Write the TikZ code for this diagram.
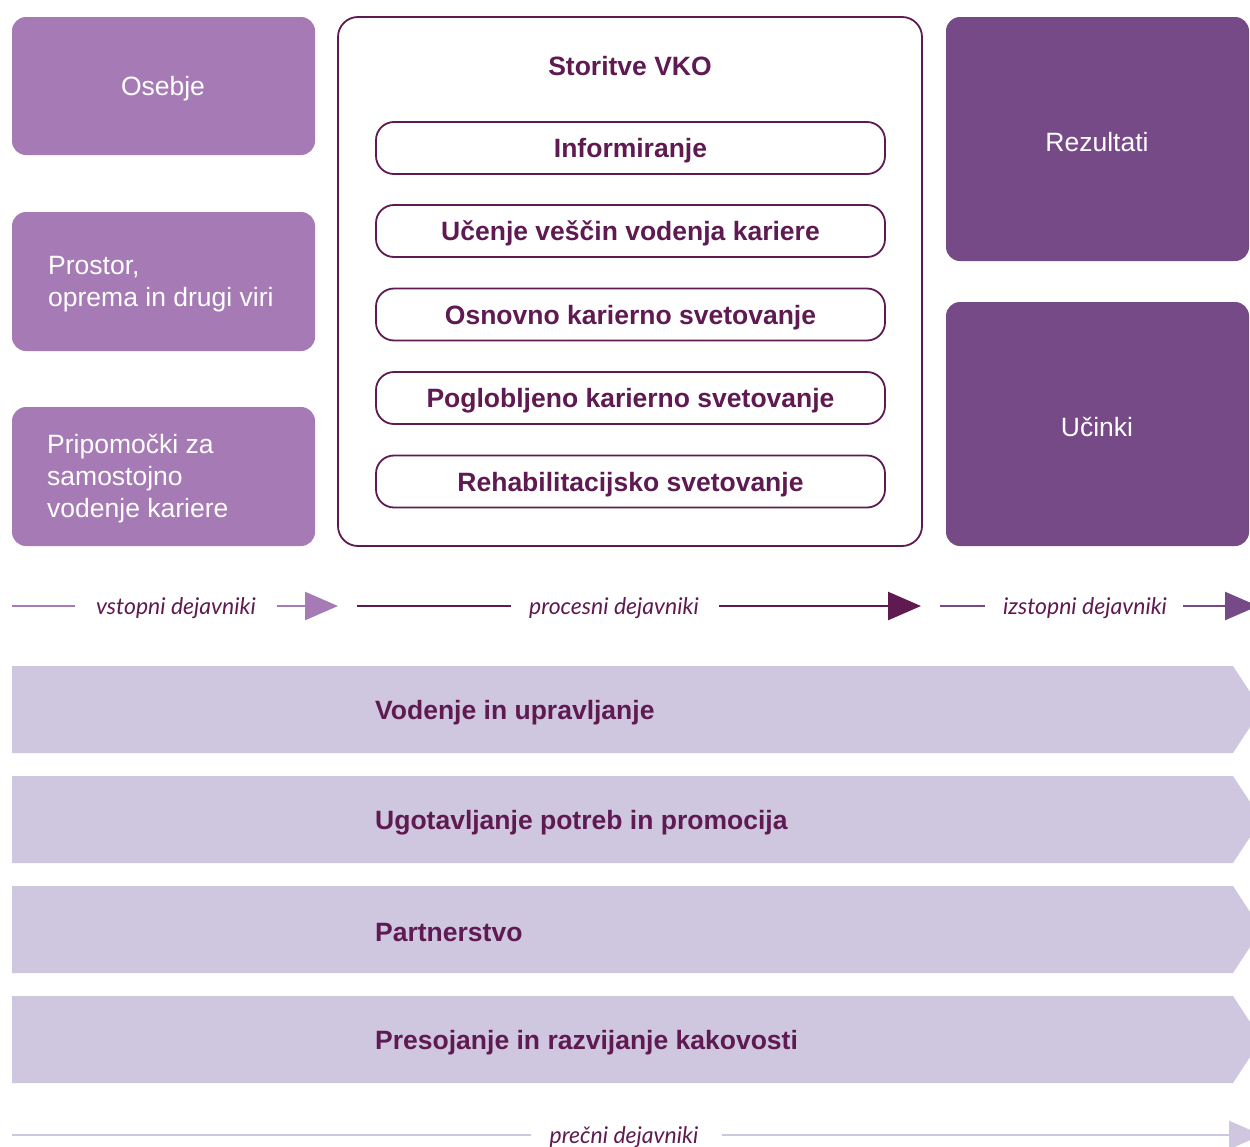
\documentclass[tikz,border=0pt]{standalone}
\usepackage{fontspec}
\setmainfont{Liberation Sans}
\newfontfamily\labfont{Lato}
\usetikzlibrary{arrows.meta}
\definecolor{lightp}{HTML}{A67BB5}
\definecolor{darkp}{HTML}{764A87}
\definecolor{deepp}{HTML}{5E1A51}
\definecolor{bandc}{HTML}{CFC6E0}
\tikzset{
  leftbox/.style={fill=lightp, draw=none, rounded corners=14pt, text=white},
  rightbox/.style={fill=darkp, draw=none, rounded corners=14pt, text=white},
  pill/.style={draw=deepp, line width=1.8pt, fill=white, rounded corners=18pt, minimum width=509pt, minimum height=52pt, text height=21pt, text depth=2pt, text=deepp, font=\fontsize{26.5}{30}\selectfont\bfseries},
  bandtxt/.style={anchor=west, text=deepp, font=\fontsize{26.5}{30}\selectfont\bfseries, inner sep=0pt},
  lab/.style={font=\labfont\itshape\fontsize{23}{26}\selectfont, text=deepp, inner sep=0pt},
  boxtxt/.style={font=\fontsize{26.5}{32}\selectfont, text=white, inner sep=0pt},
}
\begin{document}
\begin{tikzpicture}[x=1pt,y=-1pt]
\clip (0,0) rectangle (1250,1146);
\useasboundingbox (0,0) rectangle (1250,1146);
% left boxes
\path[leftbox] (12,17) rectangle (315,155);
\path[leftbox] (12,212) rectangle (315,351);
\path[leftbox] (12,407) rectangle (315,546);
\node[boxtxt] (osebje) at (163,89) {Osebje};
\node[boxtxt, anchor=west, align=left] (prostor) at (48,284) {Prostor,\\oprema in drugi viri};
\node[boxtxt, anchor=west, align=left] (pripomocki) at (47,479) {Pripomočki za\\samostojno\\vodenje kariere};
% central frame
\draw[draw=deepp, line width=1.8pt, fill=white, rounded corners=20pt] (338,17) rectangle (922,546);
\node[text=deepp, font=\fontsize{26.5}{30}\selectfont\bfseries, inner sep=0pt] (storitve) at (630,66) {Storitve VKO};
\node[pill] (p1) at (630.5,148) {Informiranje};
\node[pill] (p2) at (630.5,231) {Učenje veščin vodenja kariere};
\node[pill] (p3) at (630.5,314.5) {Osnovno karierno svetovanje};
\node[pill] (p4) at (630.5,398) {Poglobljeno karierno svetovanje};
\node[pill] (p5) at (630.5,481.5) {Rehabilitacijsko svetovanje};
% right boxes
\path[rightbox] (946,17) rectangle (1249,261);
\path[rightbox] (946,302) rectangle (1249,546);
\node[boxtxt] (rez) at (1097,142) {Rezultati};
\node[boxtxt] (ucinki) at (1097,427) {Učinki};
% arrow row
\node[lab] (l1) at (176,608) {vstopni dejavniki};
\node[lab] (l2) at (614,608) {procesni dejavniki};
\node[lab] (l3) at (1085,608) {izstopni dejavniki};
\coordinate (a1s) at (12,606);
\coordinate (a1e) at (75,606);
\coordinate (a1b) at (277,606);
\coordinate (a1t) at (338,606);
\coordinate (a2s) at (357,606);
\coordinate (a2e) at (511,606);
\coordinate (a2b) at (719,606);
\coordinate (a2t) at (921,606);
\coordinate (a3s) at (940,606);
\coordinate (a3e) at (985,606);
\coordinate (a3b) at (1183,606);
\coordinate (a3t) at (1258,606);
\draw[lightp, line width=2.5pt] (a1s) -- (a1e);
\draw[lightp, line width=2.5pt, -{Triangle[length=33pt,width=28pt]}] (a1b) -- (a1t);
\draw[deepp, line width=2.5pt] (a2s) -- (a2e);
\draw[deepp, line width=2.5pt, -{Triangle[length=33pt,width=28pt]}] (a2b) -- (a2t);
\draw[darkp, line width=2.5pt] (a3s) -- (a3e);
\draw[darkp, line width=2.5pt, -{Triangle[length=33pt,width=28pt]}] (a3b) -- (a3t);
% bands
\foreach \t in {666,776,886,996} {
  \fill[bandc] (12,\t) -- (1233,\t) -- (1261.5,\t+43.5) -- (1233,\t+87) -- (12,\t+87) -- cycle;
}
\node[bandtxt] (b1) at (375,713) {Vodenje in upravljanje};
\node[bandtxt] (b2) at (375,823) {Ugotavljanje potreb in promocija};
\node[bandtxt] (b3) at (375,933) {Partnerstvo};
\node[bandtxt] (b4) at (375,1043) {Presojanje in razvijanje kakovosti};
% bottom arrow
\node[lab] (l4) at (624,1137) {prečni dejavniki};
\coordinate (a4s) at (12,1135);
\coordinate (a4e) at (531,1135);
\coordinate (a4b) at (722,1135);
\coordinate (a4t) at (1262,1135);
\draw[bandc, line width=2.5pt] (a4s) -- (a4e);
\draw[bandc, line width=2.5pt, -{Triangle[length=33pt,width=28pt]}] (a4b) -- (a4t);
\end{tikzpicture}
\end{document}
